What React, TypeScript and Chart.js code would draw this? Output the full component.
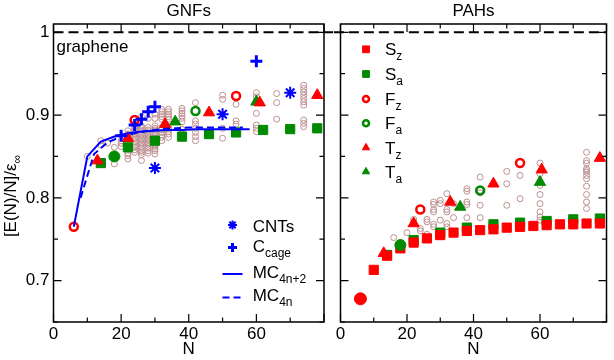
import React, { useEffect, useRef } from "react";
import { Chart, registerables } from "chart.js";
import { drawPoint } from "chart.js/helpers";

Chart.register(...registerables);

// ---------- axes ----------
const X_MIN = 0;
const X_MAX = 80;
const Y_MIN = 0.65;
const Y_MAX = 1.01;
const X_TICKS = [0, 10, 20, 30, 40, 50, 60, 70, 80];
const X_MAJOR = [0, 20, 40, 60, 80];
const X_LABELED = [0, 20, 40, 60];
const Y_TICKS = [0.65, 0.7, 0.75, 0.8, 0.85, 0.9, 0.95, 1.0];
const Y_MAJOR = [0.7, 0.8, 0.9, 1.0];
const GRAPHENE_LIMIT = 1;
const GRAPHENE_SPAN_GNF = [0, 84];
const GRAPHENE_SPAN_PAH = [-2, 80];

// ---------- GNFs panel ----------
const GNF_ISO_N = [10, 14, 16, 18, 20, 22, 24, 26, 28, 30, 32, 34, 38, 42, 50, 54, 60, 66, 74];
const GNF_ISO_E = [
  [0.85],
  [0.869, 0.864],
  [0.866],
  [0.861, 0.841],
  [0.869, 0.866, 0.862],
  [0.881, 0.877, 0.854, 0.851, 0.847],
  [0.889, 0.886, 0.883, 0.881, 0.878, 0.876, 0.873, 0.871, 0.868, 0.866, 0.863, 0.861, 0.858, 0.855],
  [0.898, 0.887, 0.885, 0.882, 0.88, 0.877, 0.875, 0.872, 0.87, 0.867, 0.865, 0.862, 0.86, 0.857, 0.855, 0.852, 0.845],
  [0.896, 0.885, 0.882, 0.88, 0.877, 0.875, 0.872, 0.87, 0.867, 0.865, 0.862, 0.86, 0.857, 0.854],
  [0.901, 0.896, 0.887, 0.884, 0.882, 0.879, 0.877, 0.874, 0.872, 0.869, 0.867, 0.864, 0.862, 0.859, 0.857, 0.853],
  [0.907, 0.904, 0.901, 0.898, 0.895, 0.885, 0.882, 0.879, 0.876, 0.873, 0.869],
  [0.907, 0.904, 0.901, 0.898, 0.895, 0.886, 0.883, 0.88, 0.877, 0.873],
  [0.908, 0.905, 0.902, 0.899, 0.896, 0.892, 0.883, 0.872],
  [0.915, 0.893, 0.889, 0.884, 0.879, 0.874, 0.869],
  [0.924, 0.919, 0.884, 0.872],
  [0.913, 0.893, 0.889],
  [0.927, 0.922, 0.917, 0.902, 0.888, 0.884, 0.88],
  [0.926, 0.915, 0.895],
  [0.936, 0.932, 0.928, 0.924, 0.92, 0.916, 0.912, 0.894, 0.89, 0.886],
];
const GNF_SA_N = [14, 22, 30, 38, 46, 54, 62, 70, 78];
const GNF_SA_E = [0.842, 0.861, 0.869, 0.874, 0.877, 0.879, 0.882, 0.883, 0.884];
const GNF_FZ_N = [6, 24, 54];
const GNF_FZ_E = [0.765, 0.894, 0.923];
const GNF_FA_N = [42];
const GNF_FA_E = [0.905];
const GNF_DOT_A_N = [18];
const GNF_DOT_A_E = [0.85];
const GNF_TZ_N = [13, 22, 33, 46, 61, 78];
const GNF_TZ_E = [0.845, 0.872, 0.889, 0.903, 0.915, 0.924];
const GNF_TA_N = [36, 60];
const GNF_TA_E = [0.892, 0.916];
const CNT_N = [30, 50, 70];
const CNT_E = [0.836, 0.901, 0.927];
const CAGE_N = [20, 24, 26, 28, 30, 60];
const CAGE_E = [0.875, 0.888, 0.895, 0.904, 0.91, 0.965];
const MC_4N2_N = [6, 10, 14, 18, 22, 26, 30, 34, 38, 42, 46, 50, 54, 58];
const MC_4N2_E = [0.765, 0.85, 0.868, 0.874, 0.878, 0.88, 0.881, 0.882, 0.882, 0.883, 0.883, 0.883, 0.883, 0.883];
const MC_4N_N = [8, 12, 16, 20, 24, 28, 32, 36, 40, 44, 48, 52, 56];
const MC_4N_E = [0.8, 0.853, 0.867, 0.874, 0.878, 0.881, 0.883, 0.884, 0.885, 0.885, 0.885, 0.885, 0.885];

// ---------- PAHs panel ----------
const PAH_ISO_N = [16, 20, 22, 24, 26, 28, 30, 32, 34, 38, 42, 50, 54, 60, 74];
const PAH_ISO_E = [
  [0.752],
  [0.758],
  [0.774, 0.771],
  [0.763, 0.76],
  [0.774, 0.771, 0.756],
  [0.795, 0.792, 0.786, 0.783, 0.768, 0.765],
  [0.797, 0.793, 0.773],
  [0.805, 0.786, 0.783, 0.769, 0.765],
  [0.793, 0.776],
  [0.811, 0.808, 0.795, 0.792, 0.776],
  [0.825, 0.809, 0.806, 0.791, 0.776],
  [0.832, 0.817, 0.791],
  [0.827, 0.799],
  [0.842, 0.829, 0.815, 0.804, 0.793, 0.783, 0.777, 0.773],
  [0.855, 0.845, 0.842, 0.835, 0.833, 0.831, 0.827, 0.823, 0.814, 0.804, 0.795, 0.787],
];
const PAH_SZ_N = [10, 14, 18, 22, 26, 30, 34, 38, 42, 46, 50, 54, 58, 62, 66, 70, 74, 78];
const PAH_SZ_E = [0.713, 0.73, 0.739, 0.746, 0.751, 0.755, 0.758, 0.76, 0.761, 0.762, 0.764, 0.765, 0.766, 0.767, 0.768, 0.768, 0.769, 0.769];
const PAH_SA_N = [14, 22, 30, 38, 46, 54, 62, 70, 78];
const PAH_SA_E = [0.731, 0.749, 0.758, 0.764, 0.768, 0.77, 0.772, 0.774, 0.775];
const PAH_FZ_N = [24, 54];
const PAH_FZ_E = [0.786, 0.842];
const PAH_FA_N = [42];
const PAH_FA_E = [0.809];
const PAH_DOT_Z_N = [6];
const PAH_DOT_Z_E = [0.678];
const PAH_DOT_A_N = [18];
const PAH_DOT_A_E = [0.743];
const PAH_TZ_N = [13, 22, 33, 46, 60.5, 78];
const PAH_TZ_E = [0.733, 0.769, 0.795, 0.817, 0.834, 0.848];
const PAH_TA_N = [36, 60];
const PAH_TA_E = [0.789, 0.819];

// ---------- style ----------
const FONT = "'Liberation Sans', Arial, Helvetica, sans-serif";
const MAIN_FONT = `17px ${FONT}`;
const SUB_FONT = `12px ${FONT}`;
const RED = "#ff0000";
const GREEN = "#008a00";
const BLUE = "#0000ff";
const BROWN = "#bc8f8f";
const NONE = "rgba(0,0,0,0)";

const pts = (ns: number[], es: number[]) => ns.map((n, i) => ({ x: n, y: es[i] }));
const colPts = (ns: number[], es: number[][]) => ns.flatMap((n, i) => es[i].map((e) => ({ x: n, y: e })));

function marker(data: any[], style: string, color: string, radius: number, opts: any = {}) {
  return {
    data,
    pointStyle: style,
    pointRadius: radius,
    pointBorderWidth: opts.bw ?? 1,
    pointBorderColor: color,
    pointBackgroundColor: opts.hollow ? NONE : color,
    showLine: false,
    order: opts.order ?? 30,
  };
}

function line(data: any[], color: string, width: number, dash: number[], order: number, clip?: boolean) {
  const d: any = {
    data,
    showLine: true,
    borderColor: color,
    borderWidth: width,
    borderDash: dash,
    pointRadius: 0,
    tension: 0,
    fill: false,
    order,
  };
  if (clip === false) d.clip = false;
  return d;
}

function gnfDatasets() {
  return [
    line(pts(GRAPHENE_SPAN_GNF, [GRAPHENE_LIMIT, GRAPHENE_LIMIT]), "#000", 2, [10, 5], 90, false),
    marker(colPts(GNF_ISO_N, GNF_ISO_E), "circle", BROWN, 3, { hollow: true, order: 100 }),
    marker(pts(GNF_SA_N, GNF_SA_E), "rect", GREEN, 6.5, { order: 50 }),
    marker(pts(GNF_DOT_A_N, GNF_DOT_A_E), "circle", GREEN, 5.5, { order: 30 }),
    marker(pts(GNF_TZ_N, GNF_TZ_E), "triangle", RED, 6.5, { order: 30 }),
    marker(pts(GNF_TA_N, GNF_TA_E), "triangle", GREEN, 6.5, { order: 31 }),
    marker(pts(GNF_FZ_N, GNF_FZ_E), "circle", RED, 4, { hollow: true, bw: 2.5, order: 25 }),
    marker(pts(GNF_FA_N, GNF_FA_E), "circle", GREEN, 4, { hollow: true, bw: 2.5, order: 25 }),
    line(pts(MC_4N2_N, MC_4N2_E), BLUE, 2, [], 20),
    line(pts(MC_4N_N, MC_4N_E), BLUE, 2, [7, 4], 21),
    marker(pts(CNT_N, CNT_E), "star", BLUE, 6, { bw: 2, order: 10 }),
    marker(pts(CAGE_N, CAGE_E), "cross", BLUE, 6, { bw: 3, order: 10 }),
  ];
}

function pahDatasets() {
  return [
    line(pts(GRAPHENE_SPAN_PAH, [GRAPHENE_LIMIT, GRAPHENE_LIMIT]), "#000", 2, [10, 5], 90, false),
    marker(colPts(PAH_ISO_N, PAH_ISO_E), "circle", BROWN, 3, { hollow: true, order: 100 }),
    marker(pts(PAH_SA_N, PAH_SA_E), "rect", GREEN, 6.5, { order: 50 }),
    marker(pts(PAH_SZ_N, PAH_SZ_E), "rect", RED, 6.5, { order: 45 }),
    marker(pts(PAH_DOT_Z_N, PAH_DOT_Z_E), "circle", RED, 6, { order: 30 }),
    marker(pts(PAH_DOT_A_N, PAH_DOT_A_E), "circle", GREEN, 5.5, { order: 30 }),
    marker(pts(PAH_TZ_N, PAH_TZ_E), "triangle", RED, 6.5, { order: 30 }),
    marker(pts(PAH_TA_N, PAH_TA_E), "triangle", GREEN, 6.5, { order: 31 }),
    marker(pts(PAH_FZ_N, PAH_FZ_E), "circle", RED, 4, { hollow: true, bw: 2.5, order: 25 }),
    marker(pts(PAH_FA_N, PAH_FA_E), "circle", GREEN, 4, { hollow: true, bw: 2.5, order: 25 }),
  ];
}

function subText(ctx: CanvasRenderingContext2D, x: number, baseline: number, main: string, sub: string) {
  ctx.textAlign = "left";
  ctx.textBaseline = "alphabetic";
  ctx.font = MAIN_FONT;
  ctx.fillText(main, x, baseline);
  const w = ctx.measureText(main).width;
  if (sub) {
    ctx.font = SUB_FONT;
    ctx.fillText(sub, x + w, baseline + 5);
  }
}

function legendPoint(ctx: CanvasRenderingContext2D, style: string, color: string, x: number, y: number, r: number, bw: number, hollow = false) {
  ctx.save();
  ctx.fillStyle = hollow ? NONE : color;
  ctx.strokeStyle = color;
  ctx.lineWidth = bw;
  drawPoint(ctx, { pointStyle: style, rotation: 0, radius: r, borderWidth: bw } as any, x, y);
  ctx.restore();
}

function decor(kind: "gnf" | "pah") {
  return {
    id: "decor" + kind,
    afterDraw(chart: any) {
      const { ctx, chartArea: ca, scales } = chart;
      const xs = scales.x;
      const ys = scales.y;
      ctx.save();
      // frame
      ctx.strokeStyle = "#000";
      ctx.lineWidth = 1.5;
      ctx.strokeRect(ca.left, ca.top, ca.right - ca.left, ca.bottom - ca.top);
      // inward ticks
      ctx.lineWidth = 1.2;
      ctx.beginPath();
      X_TICKS.forEach((v) => {
        const p = xs.getPixelForValue(v);
        const len = X_MAJOR.includes(v) ? 8 : 4.5;
        ctx.moveTo(p, ca.bottom);
        ctx.lineTo(p, ca.bottom - len);
        ctx.moveTo(p, ca.top);
        ctx.lineTo(p, ca.top + len);
      });
      Y_TICKS.forEach((v) => {
        const p = ys.getPixelForValue(v);
        const len = Y_MAJOR.some((m) => Math.abs(m - v) < 1e-9) ? 8 : 4.5;
        ctx.moveTo(ca.left, p);
        ctx.lineTo(ca.left + len, p);
        ctx.moveTo(ca.right, p);
        ctx.lineTo(ca.right - len, p);
      });
      ctx.stroke();

      ctx.fillStyle = "#000";
      // panel title
      ctx.font = MAIN_FONT;
      ctx.textAlign = "center";
      ctx.textBaseline = "alphabetic";
      ctx.fillText(kind === "gnf" ? "GNFs" : "PAHs", (ca.left + ca.right) / 2, 15.5);

      if (kind === "gnf") {
        // graphene label
        ctx.textAlign = "left";
        ctx.fillText("graphene", 56.5, 51.5);
        // y title
        ctx.save();
        ctx.translate(16, 196);
        ctx.rotate(-Math.PI / 2);
        ctx.font = MAIN_FONT;
        const main = "[E(N)/N]/ε";
        const wm = ctx.measureText(main).width;
        ctx.font = SUB_FONT;
        const ws = ctx.measureText("∞").width;
        const start = -(wm + ws) / 2;
        subText(ctx, start, 0, main, "∞");
        ctx.restore();

        // legend
        const mx = 232.5;
        const tx = 252.7;
        legendPoint(ctx, "star", BLUE, mx, 225, 4.5, 2);
        ctx.fillStyle = "#000";
        subText(ctx, tx, 231.5, "CNTs", "");
        legendPoint(ctx, "cross", BLUE, mx, 247.5, 4.5, 3);
        ctx.fillStyle = "#000";
        subText(ctx, tx, 251.5, "C", "cage");
        ctx.strokeStyle = BLUE;
        ctx.lineWidth = 2;
        ctx.setLineDash([]);
        ctx.beginPath();
        ctx.moveTo(222.5, 274);
        ctx.lineTo(242.5, 274);
        ctx.stroke();
        ctx.setLineDash([7, 4]);
        ctx.beginPath();
        ctx.moveTo(222.5, 297.5);
        ctx.lineTo(242.5, 297.5);
        ctx.stroke();
        ctx.setLineDash([]);
        ctx.fillStyle = "#000";
        subText(ctx, tx, 277.5, "MC", "4n+2");
        subText(ctx, tx, 301, "MC", "4n");
      } else {
        const mx = 366 - 333;
        const tx = 385 - 333;
        const rows: [string, string, string, string, boolean, number, number][] = [
          ["S", "z", "rect", RED, false, 4.8, 1],
          ["S", "a", "rect", GREEN, false, 4.8, 1],
          ["F", "z", "circle", RED, true, 3, 2.5],
          ["F", "a", "circle", GREEN, true, 3, 2.5],
          ["T", "z", "triangle", RED, false, 4.3, 1],
          ["T", "a", "triangle", GREEN, false, 4.3, 1],
        ];
        const ys0 = [49.3, 74, 99, 123.3, 147.7, 171.7];
        rows.forEach((r, i) => {
          legendPoint(ctx, r[2], r[3], mx, ys0[i], r[5], r[6], r[4]);
          ctx.fillStyle = "#000";
          subText(ctx, tx, ys0[i] + 6, r[0], r[1]);
        });
      }
      ctx.restore();
    },
  };
}

function buildConfig(kind: "gnf" | "pah"): any {
  const isG = kind === "gnf";
  const tickFont = { family: FONT, size: 17 };
  return {
    type: "scatter",
    data: { datasets: isG ? gnfDatasets() : pahDatasets() },
    options: {
      animation: false,
      responsive: false,
      events: [],
      layout: { padding: { left: 0, top: 24, right: isG ? 6.5 : 1, bottom: 0 } },
      plugins: { legend: { display: false }, tooltip: { enabled: false }, title: { display: false } },
      scales: {
        x: {
          type: "linear",
          min: X_MIN,
          max: X_MAX,
          grid: { display: false, drawTicks: false },
          border: { display: false },
          ticks: {
            stepSize: 10,
            padding: 2,
            autoSkip: false,
            maxRotation: 0,
            font: tickFont,
            color: "#000",
            callback: (v: number) => (X_LABELED.includes(v) ? String(v) : ""),
          },
          title: { display: true, text: "N", font: tickFont, color: "#000", padding: 0 },
          afterFit: (s: any) => {
            s.height = 38;
          },
        },
        y: {
          type: "linear",
          min: Y_MIN,
          max: Y_MAX,
          grid: { display: false, drawTicks: false },
          border: { display: false },
          afterBuildTicks: (s: any) => {
            s.ticks = Y_TICKS.map((v) => ({ value: v }));
          },
          ticks: {
            display: isG,
            padding: 4,
            autoSkip: false,
            font: tickFont,
            color: "#000",
            callback: (v: number) => {
              const m = Y_MAJOR.find((t) => Math.abs(t - v) < 1e-9);
              if (m === undefined) return "";
              return m === 1 ? "1" : m.toFixed(1);
            },
          },
          afterFit: (s: any) => {
            s.width = isG ? 53.5 : 7;
          },
        },
      },
    },
    plugins: [decor(kind)],
  };
}

function Panel({ kind, left, width }: { kind: "gnf" | "pah"; left: number; width: number }) {
  const ref = useRef<HTMLCanvasElement>(null);
  useEffect(() => {
    const chart = new Chart(ref.current as HTMLCanvasElement, buildConfig(kind));
    return () => chart.destroy();
  }, [kind]);
  return (
    <canvas
      ref={ref}
      width={width}
      height={360}
      style={{ position: "absolute", left, top: 0, width, height: 360 }}
    />
  );
}

export default function App() {
  return (
    <div style={{ position: "fixed", left: 0, top: 0, width: 614, height: 360, background: "#fff" }}>
      <Panel kind="gnf" left={0} width={333} />
      <Panel kind="pah" left={333} width={281} />
    </div>
  );
}
